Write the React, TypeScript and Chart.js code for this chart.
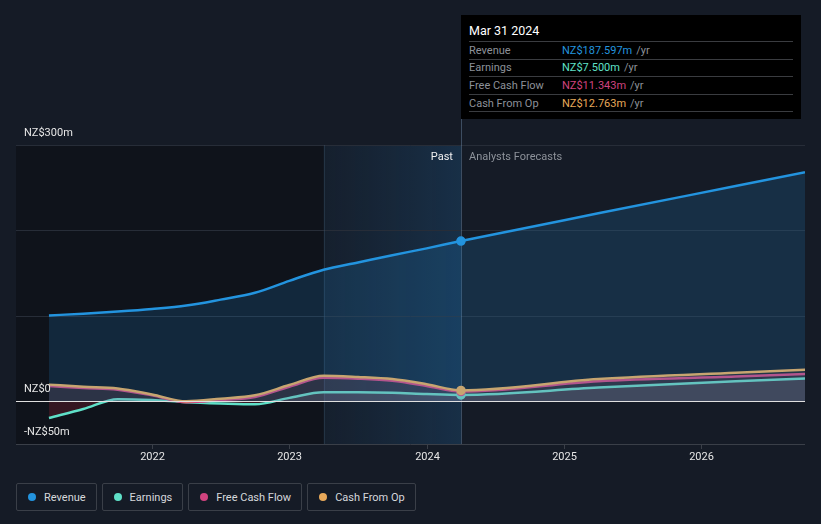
import React, { useEffect, useRef } from "react";
import { Chart, registerables } from "chart.js";

Chart.register(...registerables);

// decimal years (quarter ends), past then analyst forecasts
const years = [2021.25, 2021.5, 2021.75, 2022.0, 2022.25, 2022.5, 2022.75, 2023.0, 2023.25, 2023.5, 2023.75, 2024.0, 2024.25, 2025.25, 2026.25, 2027.25];
const revenue = [100.5, 102.5, 105, 108, 112, 119, 127, 141, 154, 162.5, 171, 179, 187.597, 220, 252, 284];
const earnings = [-19.5, -9, 2.5, 1.5, -1, -2.5, -3.5, 4, 10.5, 10.5, 10, 8.5, 7.5, 16, 23.5, 30];
const freeCashFlow = [18, 15.5, 13.5, 7, -1, 1.5, 5, 17, 27.5, 26.5, 24, 18, 11.343, 23.5, 29, 35];
const cashFromOp = [19.5, 17, 15, 8, 0, 3, 7, 19, 30, 28.5, 26, 20, 12.763, 26, 33.5, 40];

const xTicks = [2022, 2023, 2024, 2025, 2026];
const yGrid = [-50, 0, 100, 200, 300];
const yLabels: [number, string][] = [[300, "NZ$300m"], [0, "NZ$0"], [-50, "-NZ$50m"]];
const nowYear = 2024.25;
const highlightStart = 2023.25;
const xMin = 2021.01;
const xMax = 2026.755;

const COLORS = {
  revenue: "#2394df",
  earnings: "#5fe0c8",
  fcf: "#d0437f",
  cfo: "#e8a95a",
};

const tooltipRows = [
  { label: "Revenue", value: "NZ$187.597m", color: COLORS.revenue },
  { label: "Earnings", value: "NZ$7.500m", color: COLORS.earnings },
  { label: "Free Cash Flow", value: "NZ$11.343m", color: COLORS.fcf },
  { label: "Cash From Op", value: "NZ$12.763m", color: COLORS.cfo },
];

const legendItems = [
  { label: "Revenue", color: COLORS.revenue },
  { label: "Earnings", color: COLORS.earnings },
  { label: "Free Cash Flow", color: COLORS.fcf },
  { label: "Cash From Op", color: COLORS.cfo },
];

const FONT = "Roboto, 'Noto Sans', sans-serif";
const nowIndex = years.indexOf(nowYear);

const decorPlugin = {
  id: "decor",
  beforeDatasetsDraw(chart: any) {
    const { ctx, chartArea, scales } = chart;
    const { left, right, top, bottom } = chartArea;
    const x = scales.x;
    const y = scales.y;
    const xh = x.getPixelForValue(highlightStart);
    const xn = x.getPixelForValue(nowYear);
    ctx.save();
    ctx.fillStyle = "#0f131b";
    ctx.fillRect(left, top, xh - left, bottom - top);
    const g = ctx.createLinearGradient(xh, 0, xn, 0);
    g.addColorStop(0, "rgba(35,110,170,0.06)");
    g.addColorStop(1, "rgba(35,120,190,0.22)");
    ctx.fillStyle = g;
    ctx.fillRect(xh, top, xn - xh, bottom - top);
    // grid
    ctx.lineWidth = 1;
    for (const v of yGrid) {
      if (v === 0) continue;
      const py = Math.round(y.getPixelForValue(v)) + 0.5;
      ctx.strokeStyle = v === -50 ? "#3a3f48" : "#272d38";
      ctx.beginPath();
      ctx.moveTo(left, py);
      ctx.lineTo(right, py);
      ctx.stroke();
    }
    // highlight edge
    ctx.strokeStyle = "rgba(80,110,140,0.25)";
    ctx.beginPath();
    ctx.moveTo(Math.round(xh) + 0.5, top);
    ctx.lineTo(Math.round(xh) + 0.5, bottom);
    ctx.stroke();
    // now line
    ctx.strokeStyle = "rgba(110,140,170,0.45)";
    ctx.beginPath();
    ctx.moveTo(Math.round(xn) + 0.5, 119);
    ctx.lineTo(Math.round(xn) + 0.5, bottom);
    ctx.stroke();
    ctx.restore();
  },
  afterDatasetsDraw(chart: any) {
    const { ctx, chartArea, scales } = chart;
    const { left, right, bottom } = chartArea;
    const x = scales.x;
    const y = scales.y;
    ctx.save();
    const zy = Math.round(y.getPixelForValue(0)) + 0.5;
    ctx.strokeStyle = "#e0e0e0";
    ctx.lineWidth = 1.2;
    ctx.beginPath();
    ctx.moveTo(left, zy);
    ctx.lineTo(right, zy);
    ctx.stroke();
    // x ticks
    ctx.lineWidth = 1;
    ctx.font = `11px ${FONT}`;
    ctx.fillStyle = "#e6e6e6";
    ctx.textAlign = "center";
    ctx.textBaseline = "middle";
    ctx.strokeStyle = "#3a3f48";
    for (const t of xTicks) {
      const px = Math.round(x.getPixelForValue(t)) + 0.5;
      ctx.beginPath();
      ctx.moveTo(px, bottom);
      ctx.lineTo(px, bottom + 5);
      ctx.stroke();
      ctx.fillText(String(t), px, bottom + 13);
    }
    // y labels
    ctx.textAlign = "left";
    ctx.fillStyle = "#e6e6e6";
    for (const [v, txt] of yLabels) {
      const py = y.getPixelForValue(v);
      ctx.fillText(txt, left + 8, py - 12);
    }
    // past / forecast
    const xn = x.getPixelForValue(nowYear);
    const ty = chartArea.top + 12;
    ctx.textAlign = "right";
    ctx.fillStyle = "#f0f0f0";
    ctx.fillText("Past", xn - 8, ty);
    ctx.textAlign = "left";
    ctx.fillStyle = "#8d929a";
    ctx.fillText("Analysts Forecasts", xn + 8, ty);
    ctx.restore();
  },
};

export default function App() {
  const canvasRef = useRef<HTMLCanvasElement | null>(null);

  useEffect(() => {
    document.body.style.margin = "0";
    const canvas = canvasRef.current;
    if (!canvas) return;
    const mk = (vals: number[]) => years.map((yr, i) => ({ x: yr, y: vals[i] }));
    const pr = (c: any) => (c.dataIndex === nowIndex ? 4 : 0);
    const chart = new Chart(canvas, {
      type: "line",
      data: {
        datasets: [
          {
            label: "Revenue",
            data: mk(revenue),
            borderColor: COLORS.revenue,
            backgroundColor: "rgba(35,148,223,0.17)",
            pointBackgroundColor: COLORS.revenue,
            fill: "origin",
          },
          {
            label: "Cash From Op",
            data: mk(cashFromOp),
            borderColor: COLORS.cfo,
            pointBackgroundColor: COLORS.cfo,
            fill: { target: "origin", above: "rgba(232,169,90,0.06)", below: "rgba(190,40,60,0.2)" },
          },
          {
            label: "Free Cash Flow",
            data: mk(freeCashFlow),
            borderColor: COLORS.fcf,
            pointBackgroundColor: COLORS.fcf,
            fill: { target: "origin", above: "rgba(208,67,127,0.10)", below: "rgba(190,40,60,0.2)" },
          },
          {
            label: "Earnings",
            data: mk(earnings),
            borderColor: COLORS.earnings,
            pointBackgroundColor: COLORS.earnings,
            fill: { target: "origin", above: "rgba(170,170,180,0.16)", below: "rgba(190,40,60,0.22)" },
          },
        ] as any,
      },
      options: {
        animation: false,
        responsive: false,
        devicePixelRatio: 1,
        layout: { padding: { left: 16, right: 16, top: 145, bottom: 26 } },
        elements: {
          line: { borderWidth: 2.5, cubicInterpolationMode: "monotone" },
          point: { radius: pr as any, hoverRadius: 0, borderColor: "#ffffff", borderWidth: 1.5 },
        },
        scales: {
          x: { type: "linear", min: xMin, max: xMax, display: false },
          y: { type: "linear", min: -50, max: 300, display: false },
        },
        plugins: {
          legend: { display: false },
          tooltip: { enabled: false },
        },
        events: [],
      } as any,
      plugins: [decorPlugin],
    });
    return () => chart.destroy();
  }, []);

  return (
    <div style={{ position: "fixed", left: 0, top: 0, width: 821, height: 524, background: "#151b26", fontFamily: FONT, overflow: "hidden" }}>
      <canvas ref={canvasRef} width={821} height={470} style={{ position: "absolute", left: 0, top: 0, width: 821, height: 470 }} />
      <div style={{ position: "absolute", left: 461, top: 15, width: 340, height: 104, background: "#000000", boxSizing: "border-box", padding: "0 8px" }}>
        <div style={{ height: 26, lineHeight: "31px", color: "#ffffff", fontSize: 12.5 }}>Mar 31 2024</div>
        {tooltipRows.map((r) => (
          <div key={r.label} style={{ height: 17.6, boxSizing: "border-box", borderTop: "1px solid #3a3c40", display: "flex", alignItems: "center", fontSize: 11 }}>
            <span style={{ width: 93, color: "#8d9199" }}>{r.label}</span>
            <span style={{ color: r.color }}>{r.value}</span>
            <span style={{ color: "#8d9199", marginLeft: 4 }}>/yr</span>
          </div>
        ))}
        <div style={{ borderTop: "1px solid #3a3c40" }} />
      </div>
      <div style={{ position: "absolute", left: 16, top: 483, display: "flex", gap: 5 }}>
        {legendItems.map((l) => (
          <div key={l.label} style={{ height: 28, boxSizing: "border-box", border: "1px solid #3a3f48", borderRadius: 2, display: "flex", alignItems: "center", padding: "0 10px 0 11px", fontSize: 11, color: "#d6d8dc" }}>
            <span style={{ width: 8, height: 8, borderRadius: 4, background: l.color, marginRight: 8, display: "inline-block" }} />
            {l.label}
          </div>
        ))}
      </div>
    </div>
  );
}
